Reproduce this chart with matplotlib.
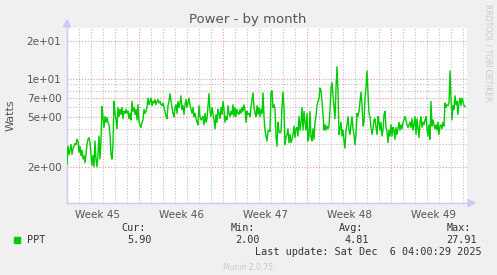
import numpy as np
import matplotlib
matplotlib.use("Agg")
import matplotlib.pyplot as plt
from matplotlib.ticker import FixedLocator, NullLocator, NullFormatter

# ---- data (Watts, one sample every 2 hours) ----
ppt_values = [
    2.1, 2.9, 2.5, 2.7, 3.0, 2.5, 2.8, 2.9, 3.05, 3.0,
    3.3, 3.2, 2.6, 2.9, 2.45, 2.7, 2.3, 2.45, 2.15, 2.5,
    3.0, 3.3, 3.4, 3.1, 2.45, 2.05, 2.45, 2.0, 3.2, 2.3,
    2.0, 2.5, 3.5, 2.3, 3.2, 6.0, 4.9, 4.1, 5.0, 4.5,
    4.9, 4.5, 4.3, 3.6, 2.5, 2.3, 3.0, 6.6, 5.3, 4.8,
    4.0, 5.9, 5.0, 5.7, 5.2, 5.9, 4.8, 5.5, 5.3, 5.7,
    5.3, 5.5, 4.8, 5.3, 4.7, 6.6, 5.5, 5.9,
    5.2, 5.7, 4.7, 6.2, 4.5, 4.3, 4.1, 4.5, 4.7, 5.7,
    5.3, 5.5, 5.9, 7.0, 6.2, 6.6, 7.0, 6.1, 6.6, 6.4,
    6.8, 6.2, 6.6, 6.8, 6.4, 6.6, 6.2, 6.1, 6.4, 5.9,
    5.5, 5.0, 4.8, 6.1, 6.6, 7.6, 6.6, 5.9, 5.3, 5.0,
    5.9, 6.2, 5.3, 6.6, 5.9, 6.4, 7.3, 5.7, 6.1, 5.2,
    6.2, 6.8, 5.9, 6.4, 7.0, 6.2, 5.7, 5.3, 5.9, 5.0,
    5.3, 4.8, 4.5, 4.3, 6.1, 5.0, 4.7, 4.8,
    5.0, 4.3, 5.3, 4.5, 4.8, 6.1, 7.6, 5.5, 5.0, 5.9,
    5.3, 4.7, 4.0, 5.2, 4.5, 5.7, 5.3, 4.8, 5.9, 5.2,
    6.6, 5.7, 4.5, 5.0, 4.7, 6.1, 5.3, 5.0, 5.5, 5.2,
    6.2, 5.0, 5.9, 5.0, 5.7, 5.3, 5.2, 5.7, 5.3, 5.9,
    5.5, 6.2, 5.7, 4.5, 5.5, 5.2, 5.3, 5.0, 5.9, 6.8,
    7.7, 5.9, 5.3, 5.0, 6.1, 5.2, 5.9, 5.0, 5.7, 5.3,
    7.7, 5.0, 3.9, 3.5, 3.2, 3.8, 3.9, 3.8,
    7.8, 8.0, 5.9, 6.2, 5.7, 3.5, 2.9, 4.5, 3.8, 3.7,
    3.8, 5.9, 7.8, 5.9, 3.0, 3.4, 3.6, 4.0, 3.1, 3.6,
    3.1, 3.3, 3.6, 4.2, 3.4, 4.0, 4.1, 3.5, 5.0, 3.9,
    4.5, 5.9, 3.9, 5.5, 4.5, 3.9, 5.3, 3.2, 3.5, 5.5,
    3.4, 3.2, 4.0, 3.3, 4.5, 5.0, 6.1, 6.6, 7.0, 8.4,
    8.0, 6.6, 5.2, 3.9, 4.3, 3.9, 4.2, 4.0, 4.2, 5.7,
    8.4, 9.3, 7.3, 5.9, 4.8, 8.4, 12.4, 8.0,
    3.6, 4.0, 4.5, 3.5, 3.9, 3.2, 2.8, 3.9, 4.3, 5.0,
    3.9, 3.6, 4.3, 5.0, 4.0, 3.6, 3.0, 3.6, 5.3, 5.0,
    5.5, 6.6, 7.8, 6.2, 4.2, 4.5, 7.0, 8.4, 11.5, 7.6,
    5.3, 5.0, 4.1, 3.6, 4.0, 4.7, 4.8, 4.1, 3.6, 5.0,
    4.5, 3.9, 4.5, 3.5, 3.9, 5.2, 5.5, 4.1, 3.8, 3.1,
    3.9, 3.5, 4.3, 3.5, 4.1, 3.9, 3.3, 4.1, 3.6, 4.0,
    4.5, 3.9, 4.3, 4.0, 4.5, 4.7, 5.0, 4.7,
    4.3, 4.1, 4.3, 4.5, 4.1, 4.8, 3.9, 4.3, 5.0, 3.6,
    4.8, 4.1, 3.4, 4.5, 5.0, 4.1, 4.5, 4.3, 4.7, 5.0,
    4.0, 3.5, 4.3, 3.3, 6.6, 4.2, 4.7, 4.3, 4.0, 4.3,
    3.9, 4.5, 3.6, 4.2, 4.3, 4.0, 4.5, 4.2, 6.4, 5.9,
    6.2, 6.1, 6.4, 11.5, 7.0, 4.7, 6.1, 5.7, 7.3, 6.2,
    6.6, 5.2, 6.4, 7.0, 6.1, 7.0, 6.6, 6.1, 6.0,
]
samples_per_day = 12           # 2-hour resolution
week_labels = ["Week 45", "Week 46", "Week 47", "Week 48", "Week 49"]
first_week_start = -0.975      # days, relative to graph start
graph_days = 400 / 12
y_ticks = [2, 5, 7, 10, 20]
y_tick_labels = ["2e+00", "5e+00", "7e+00", "1e+01", "2e+01"]
y_minor = [3, 4, 6, 8, 9]
legend_stats = {"Cur:": "5.90", "Min:": "2.00", "Avg:": "4.81", "Max:": "27.91"}

# ---- figure ----
W, H = 497, 275
fig = plt.figure(figsize=(W / 100, H / 100), dpi=100, facecolor="#F0F0F0")
L, R, T, B = 67, 467, 28, 203
ax = fig.add_axes([L / W, 1 - B / H, (R - L) / W, (B - T) / H])
ax.set_facecolor("white")

t = np.arange(len(ppt_values)) / samples_per_day
ax.set_yscale("log")
ax.set_xlim(0, graph_days)
ax.set_ylim(1.03, 25.2)

grid_minor = "#BEBEBE"
grid_major = "#E89898"
dots = (0, (1, 1.6))
# vertical grid: days (minor), week starts (major)
week_starts = first_week_start + 7 * np.arange(len(week_labels) + 1)
for k in range(0, 40):
    d = first_week_start + k
    if d <= 0 or d >= graph_days:
        continue
    ax.axvline(d, color=grid_major if k % 7 == 0 else grid_minor, lw=0.8,
               ls=dots, zorder=1)
for v in y_minor:
    ax.axhline(v, color=grid_minor, lw=0.8, ls=dots, zorder=1)
for v in y_ticks:
    ax.axhline(v, color=grid_major, lw=0.8, ls=dots, zorder=1)

ax.plot(t, ppt_values, color="#00CC00", lw=1.0, zorder=3)

# ticks
ax.yaxis.set_major_locator(FixedLocator(y_ticks))
ax.yaxis.set_minor_locator(NullLocator())
ax.yaxis.set_minor_formatter(NullFormatter())
ax.set_yticklabels(y_tick_labels)
mid_weeks = week_starts[:-1] + 3.5
ax.set_xticks(mid_weeks)
ax.set_xticklabels(week_labels)
ax.tick_params(axis="both", length=0, labelsize=7.5, labelcolor="#555555", pad=4)
ax.tick_params(axis="x", pad=5)

for s in ["top", "right"]:
    ax.spines[s].set_visible(False)
for s in ["left", "bottom"]:
    ax.spines[s].set_color("#C8CCF4")
    ax.spines[s].set_linewidth(1.0)

# axis arrows
fig.patches.append(matplotlib.patches.Polygon(
    [[(L - 3.5) / W, 1 - (T - 1) / H], [(L + 3.5) / W, 1 - (T - 1) / H], [L / W, 1 - (T - 8) / H]],
    closed=True, transform=fig.transFigure, color="#C8CCF4"))
fig.patches.append(matplotlib.patches.Polygon(
    [[(R + 1) / W, 1 - (B - 3.5) / H], [(R + 1) / W, 1 - (B + 3.5) / H], [(R + 8) / W, 1 - B / H]],
    closed=True, transform=fig.transFigure, color="#C8CCF4"))

ax.set_ylabel("Watts", fontsize=8, color="#555555", labelpad=8)

fig.text(248 / W, 1 - 19 / H, "Power - by month", ha="center", va="center",
         fontsize=9.5, color="#555555")
fig.text(488 / W, 1 - 4 / H, "RRDTOOL / TOBI OETIKER", rotation=270, ha="center", va="top",
         fontsize=5.5, color="#C8C8C8")

mono = "DejaVu Sans Mono"
legend_color = "#333333"
fig.patches.append(matplotlib.patches.Rectangle(
    (14 / W, 1 - 243 / H), 6 / W, 6 / H, transform=fig.transFigure, color="#00CC00"))
fig.text(27 / W, 1 - 240 / H, "PPT", ha="left", va="center", fontsize=7.3,
         family=mono, color=legend_color)
stat_right = [146, 255, 363, 471]
val_right = [152, 260, 369, 477]
for (k, v), xr, xv in zip(legend_stats.items(), stat_right, val_right):
    fig.text(xr / W, 1 - 228 / H, k, ha="right", va="center", fontsize=7.3,
             family=mono, color=legend_color)
    fig.text(xv / W, 1 - 240 / H, v, ha="right", va="center", fontsize=7.3,
             family=mono, color=legend_color)
fig.text(482 / W, 1 - 252 / H, "Last update: Sat Dec  6 04:00:29 2025", ha="right",
         va="center", fontsize=7.3, family=mono, color=legend_color)
fig.text(248 / W, 1 - 267 / H, "Munin 2.0.75", ha="center", va="center",
         fontsize=5.5, color="#C8C8C8")

fig.savefig("out.png", dpi=100, facecolor=fig.get_facecolor())
